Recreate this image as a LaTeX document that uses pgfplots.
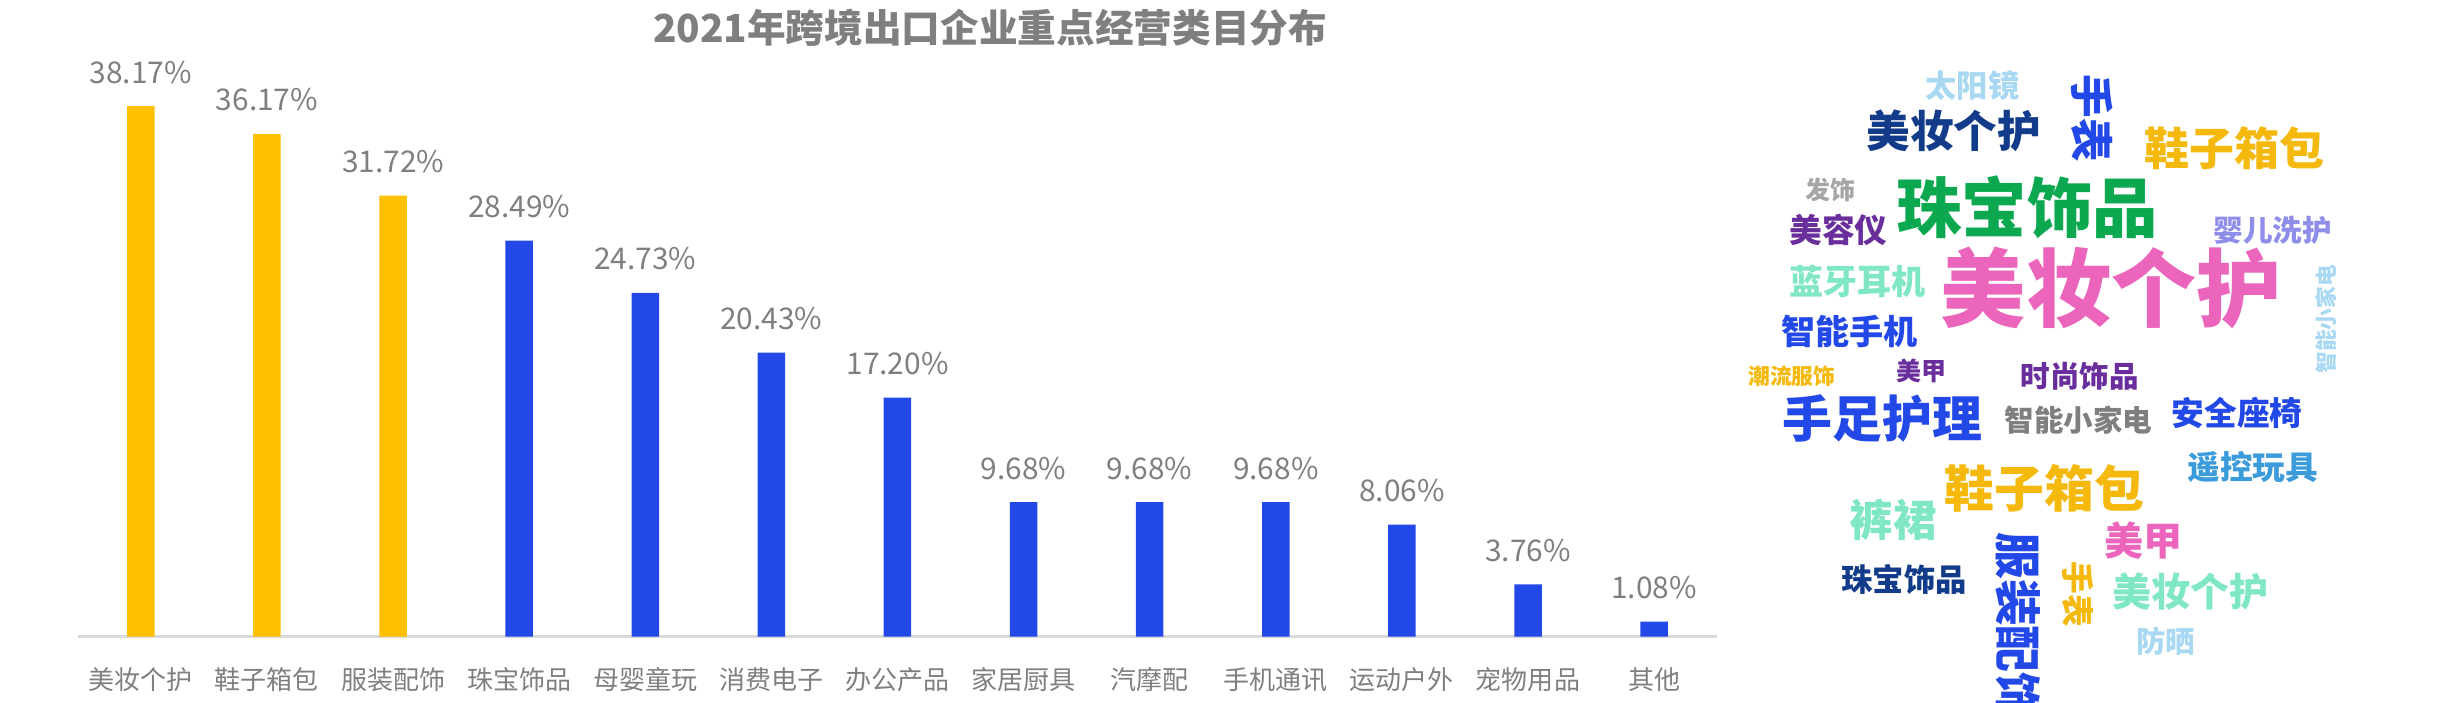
\documentclass[border=0pt]{standalone}
\usepackage{fontspec}
\setmainfont{Noto Sans CJK SC}
\usepackage{pgfplots}
\pgfplotsset{compat=1.18}

\definecolor{barY}{HTML}{FFC000}
\definecolor{barB}{HTML}{2348E8}
\definecolor{txtG}{HTML}{7F7F7F}
\definecolor{axG}{HTML}{D9D9D9}
% word cloud colours
\definecolor{wLB}{HTML}{A9D8F2}
\definecolor{wNavy}{HTML}{123B8A}
\definecolor{wYel}{HTML}{F5B80C}
\definecolor{wGray}{HTML}{A6A6A6}
\definecolor{wGreen}{HTML}{0CA84F}
\definecolor{wPur}{HTML}{6A2D9C}
\definecolor{wLav}{HTML}{8E8EEA}
\definecolor{wPink}{HTML}{EB65BC}
\definecolor{wMint}{HTML}{7FE6C6}
\definecolor{wSky}{HTML}{3C9BDA}

\newcommand{\fs}[1]{\bfseries\fontsize{#1}{#1}\selectfont}

\begin{document}
\begin{tikzpicture}
\useasboundingbox (0,0) rectangle (244.1mm,70.21mm);

\begin{axis}[
    at={(7.784mm,6.539mm)}, anchor=south west,
    scale only axis, width=163.93mm, height=55.61mm,
    xmin=-0.5, xmax=12.5, ymin=0, ymax=40,
    axis x line=bottom, axis y line=none,
    x axis line style={-, draw=axG, line width=0.8pt},
    ybar, bar width=2.75mm, bar shift=0pt,
    xtick={0,...,12}, major tick length=0pt,
    xticklabels={美妆个护,鞋子箱包,服装配饰,珠宝饰品,母婴童玩,消费电子,办公产品,家居厨具,汽摩配,手机通讯,运动户外,宠物用品,其他},
    xticklabel style={font=\fontsize{7.4}{8}\selectfont, text=txtG, anchor=base, yshift=-5.3mm},
    ytick=\empty,
    clip=false,
    /pgf/number format/assume math mode=true,
    nodes near coords={\pgfmathprintnumber[fixed,fixed zerofill,precision=2]{\pgfplotspointmeta}\%},
    every node near coord/.append style={font=\fontsize{8.5}{10}\selectfont, text=txtG, anchor=base, yshift=2.3mm, inner sep=0pt},
  ]
  \addplot[fill=barY, draw=none] coordinates {(0,38.17) (1,36.17) (2,31.72)};
  \addplot[fill=barB, draw=none] coordinates {
    (3,28.49) (4,24.73) (5,20.43) (6,17.20) (7,9.68) (8,9.68)
    (9,9.68) (10,8.06) (11,3.76) (12,1.08)};
\end{axis}

% title and word cloud, placed from the top-left corner
\begin{scope}[x=0.15568mm, y=-0.15568mm, shift={(0,-451)}, every node/.style={inner sep=0pt}]
\node[font=\fs{11}, text=txtG] at (636,18) {2021年跨境出口企业重点经营类目分布};
\node[font=\fs{8.9}, text=wLB] at (1267,55) {太阳镜};
\node[font=\fs{12.4}, text=barB, rotate=-90] at (1344,76) {手表};
\node[font=\fs{12.4}, text=wNavy] at (1255,84) {美妆个护};
\node[font=\fs{12.8}, text=wYel] at (1435,95) {鞋子箱包};
\node[font=\fs{7.1}, text=wGray] at (1176,122) {发饰};
\node[font=\fs{18.6}, text=wGreen] at (1302,133) {珠宝饰品};
\node[font=\fs{9.3}, text=wPur] at (1181,148) {美容仪};
\node[font=\fs{8.4}, text=wLav] at (1460,148) {婴儿洗护};
\node[font=\fs{24.2}, text=wPink] at (1356,185) {美妆个护};
\node[font=\fs{9.7}, text=wMint] at (1193,181) {蓝牙耳机};
\node[font=\fs{6.2}, text=wLB, rotate=90] at (1494,205) {智能小家电};
\node[font=\fs{9.7}, text=barB] at (1188,213) {智能手机};
\node[font=\fs{6.2}, text=wYel] at (1151,242) {潮流服饰};
\node[font=\fs{7.1}, text=wPur] at (1234,238) {美甲};
\node[font=\fs{8.4}, text=wPur] at (1336,242) {时尚饰品};
\node[font=\fs{14.2}, text=barB] at (1209,269) {手足护理};
\node[font=\fs{8.4}, text=txtG] at (1335,270) {智能小家电};
\node[font=\fs{9.3}, text=barB] at (1437,265) {安全座椅};
\node[font=\fs{9.3}, text=wSky] at (1447,300) {遥控玩具};
\node[font=\fs{14.2}, text=wYel] at (1313,314) {鞋子箱包};
\node[font=\fs{12.4}, text=wMint] at (1216,334) {裤裙};
\node[font=\fs{11.1}, text=wPink] at (1377,347) {美甲};
\node[font=\fs{8.9}, text=wNavy] at (1223,372) {珠宝饰品};
\node[font=\fs{13.3}, text=barB, rotate=-90] at (1296,402) {服装配饰};
\node[font=\fs{9.3}, text=wYel, rotate=-90] at (1335,382) {手表};
\node[font=\fs{11.1}, text=wMint] at (1407,380) {美妆个护};
\node[font=\fs{8.4}, text=wLB] at (1391,412) {防晒};
\end{scope}
\end{tikzpicture}
\end{document}
